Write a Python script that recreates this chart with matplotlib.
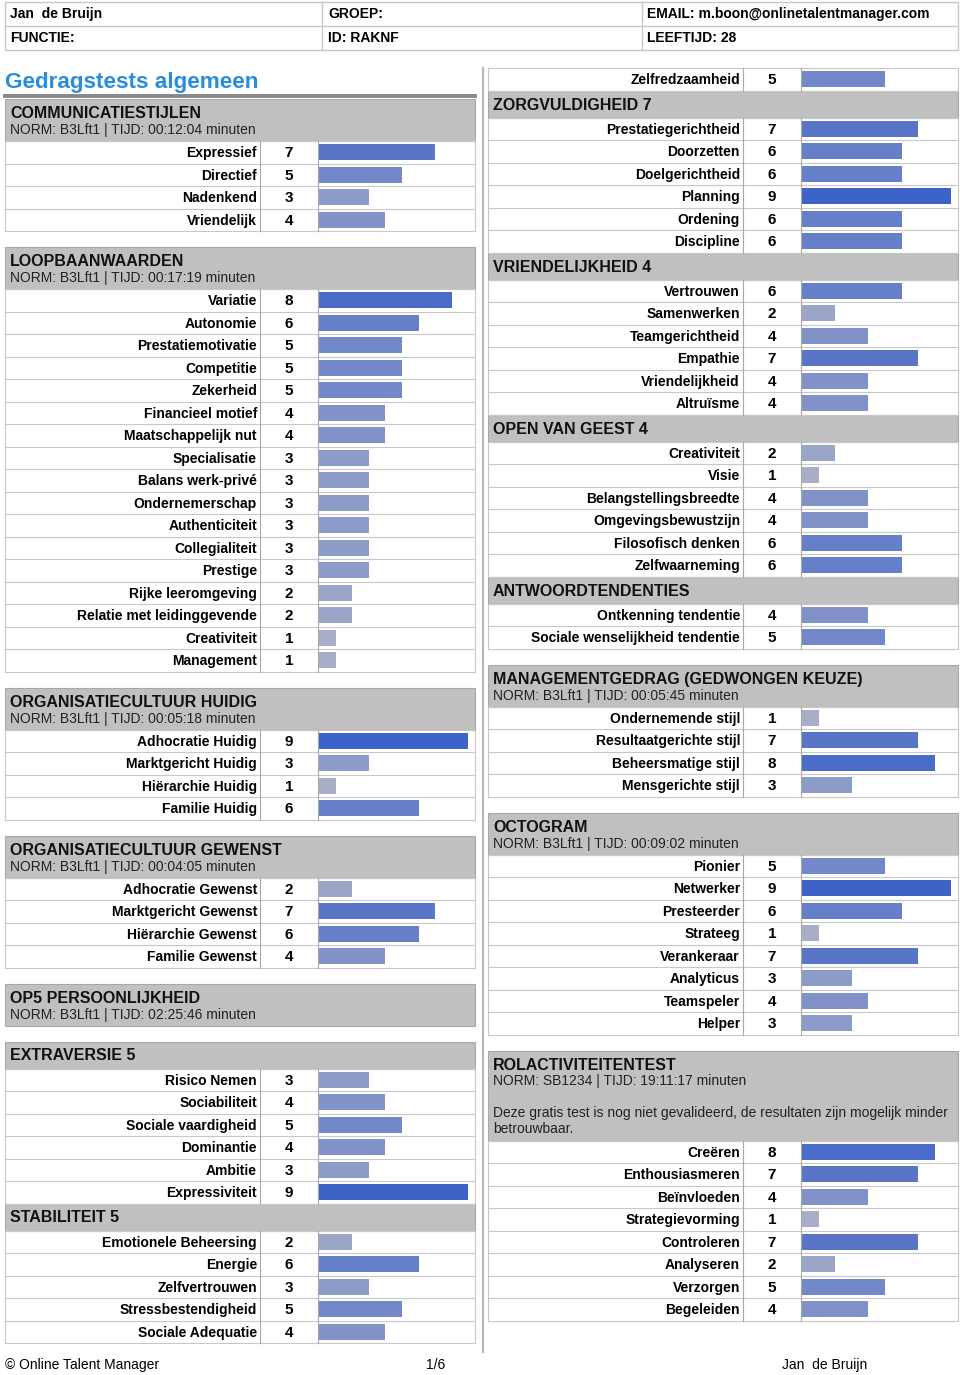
import matplotlib
matplotlib.use('Agg')
import matplotlib.pyplot as plt
from matplotlib.patches import Rectangle

plt.rcParams['font.family'] = ['Liberation Sans', 'DejaVu Sans']

# ---- data ----
comm_labels = ['Expressief', 'Directief', 'Nadenkend', 'Vriendelijk']
comm_scores = [7, 5, 3, 4]

loop_labels = ['Variatie', 'Autonomie', 'Prestatiemotivatie', 'Competitie', 'Zekerheid',
               'Financieel motief', 'Maatschappelijk nut', 'Specialisatie', 'Balans werk-privé',
               'Ondernemerschap', 'Authenticiteit', 'Collegialiteit', 'Prestige',
               'Rijke leeromgeving', 'Relatie met leidinggevende', 'Creativiteit', 'Management']
loop_scores = [8, 6, 5, 5, 5, 4, 4, 3, 3, 3, 3, 3, 3, 2, 2, 1, 1]

huidig_labels = ['Adhocratie Huidig', 'Marktgericht Huidig', 'Hiërarchie Huidig', 'Familie Huidig']
huidig_scores = [9, 3, 1, 6]

gewenst_labels = ['Adhocratie Gewenst', 'Marktgericht Gewenst', 'Hiërarchie Gewenst', 'Familie Gewenst']
gewenst_scores = [2, 7, 6, 4]

extra_labels = ['Risico Nemen', 'Sociabiliteit', 'Sociale vaardigheid', 'Dominantie', 'Ambitie', 'Expressiviteit']
extra_scores = [3, 4, 5, 4, 3, 9]

stab_labels = ['Emotionele Beheersing', 'Energie', 'Zelfvertrouwen', 'Stressbestendigheid', 'Sociale Adequatie']
stab_scores = [2, 6, 3, 5, 4]

zelf_labels = ['Zelfredzaamheid']
zelf_scores = [5]

zorg_labels = ['Prestatiegerichtheid', 'Doorzetten', 'Doelgerichtheid', 'Planning', 'Ordening', 'Discipline']
zorg_scores = [7, 6, 6, 9, 6, 6]

vriend_labels = ['Vertrouwen', 'Samenwerken', 'Teamgerichtheid', 'Empathie', 'Vriendelijkheid', 'Altruïsme']
vriend_scores = [6, 2, 4, 7, 4, 4]

open_labels = ['Creativiteit', 'Visie', 'Belangstellingsbreedte', 'Omgevingsbewustzijn',
               'Filosofisch denken', 'Zelfwaarneming']
open_scores = [2, 1, 4, 4, 6, 6]

antw_labels = ['Ontkenning tendentie', 'Sociale wenselijkheid tendentie']
antw_scores = [4, 5]

mgmt_labels = ['Ondernemende stijl', 'Resultaatgerichte stijl', 'Beheersmatige stijl', 'Mensgerichte stijl']
mgmt_scores = [1, 7, 8, 3]

octo_labels = ['Pionier', 'Netwerker', 'Presteerder', 'Strateeg', 'Verankeraar', 'Analyticus',
               'Teamspeler', 'Helper']
octo_scores = [5, 9, 6, 1, 7, 3, 4, 3]

rol_labels = ['Creëren', 'Enthousiasmeren', 'Beïnvloeden', 'Strategievorming', 'Controleren',
              'Analyseren', 'Verzorgen', 'Begeleiden']
rol_scores = [8, 7, 4, 1, 7, 2, 5, 4]

# ---- layout helpers (pixel coordinates) ----
ROW_H = 22.5
UNIT = 16.6
LINE = '#c8c8c8'
SEP = '#a8a8a8'
HEAD_BG = '#c0c0c0'

fig = plt.figure(figsize=(9.6, 13.75), dpi=100)
ax = fig.add_axes([0, 0, 1, 1])
ax.set_xlim(0, 960)
ax.set_ylim(1375, 0)
ax.axis('off')


def bar_color(v):
  t = (v - 1) / 8.0
  lo = (168, 174, 200)
  hi = (61, 98, 200)
  return tuple((lo[i] + (hi[i] - lo[i]) * t) / 255 for i in range(3))


def header(col, y0, title, lines=()):
  x0, x1 = col['x0'], col['x1']
  h = 27 if not lines else 26 + 16 * len(lines)
  ax.add_patch(Rectangle((x0, y0), x1 - x0, h, facecolor=HEAD_BG, edgecolor='#a8a8a8', lw=0.8))
  ax.text(x0 + 5, y0 + 14.5, title, fontsize=11.5, fontweight='bold', va='center', color='#111111')
  for i, ln in enumerate(lines):
    if ln:
      ax.text(x0 + 5, y0 + 31 + 15.8 * i, ln, fontsize=10, va='center', color='#222222')
  return y0 + h


def rows(col, y0, labels, scores):
  x0, x1, sl, sn = col['x0'], col['x1'], col['sl'], col['sn']
  n = len(labels)
  y1 = y0 + n * ROW_H
  centers = [y0 + ROW_H * (i + 0.5) for i in range(n)]
  for i in range(n + 1):
    ax.plot([x0, x1], [y0 + i * ROW_H] * 2, color=LINE, lw=0.8)
  for x in (x0, x1):
    ax.plot([x, x], [y0, y1], color=LINE, lw=0.8)
  for x in (sl, sn):
    ax.plot([x, x], [y0, y1], color=SEP, lw=0.8)
  for c, lab, s in zip(centers, labels, scores):
    ax.text(sl - 3, c + 1, lab, ha='right', va='center', fontsize=10, fontweight='bold')
    ax.text((sl + sn) / 2, c + 1, str(s), ha='center', va='center', fontsize=11, fontweight='bold')
  ax.barh(centers, [s * UNIT for s in scores], left=sn + 1, height=16,
          color=[bar_color(s) for s in scores])
  return y1


left = {'x0': 5, 'x1': 475, 'sl': 260, 'sn': 318}
right = {'x0': 488, 'x1': 958, 'sl': 743, 'sn': 801}

# ---- top info table ----
ax.add_patch(Rectangle((5, 2), 953, 48, facecolor='none', edgecolor=LINE, lw=1))
ax.plot([5, 958], [26, 26], color=LINE, lw=1)
for x in (322, 642):
  ax.plot([x, x], [2, 50], color=LINE, lw=1)
info = [('Jan  de Bruijn', 'GROEP:', 'EMAIL: m.boon@onlinetalentmanager.com'),
        ('FUNCTIE:', 'ID: RAKNF', 'LEEFTIJD: 28')]
for r, row in enumerate(info):
  for x, t in zip((10, 328, 647), row):
    ax.text(x, 14 + 24 * r, t, fontsize=10, fontweight='bold', va='center')

# ---- left column ----
ax.text(5, 82, 'Gedragstests algemeen', fontsize=16.2, fontweight='bold', color='#2a8ddb', va='center')
ax.plot([5, 475], [96, 96], color='#888888', lw=2.8)

norm = 'NORM: B3Lft1 | TIJD: {} minuten'
y = header(left, 99, 'COMMUNICATIESTIJLEN', [norm.format('00:12:04')])
y = rows(left, y, comm_labels, comm_scores)
y = header(left, y + 16, 'LOOPBAANWAARDEN', [norm.format('00:17:19')])
y = rows(left, y, loop_labels, loop_scores)
y = header(left, y + 16, 'ORGANISATIECULTUUR HUIDIG', [norm.format('00:05:18')])
y = rows(left, y, huidig_labels, huidig_scores)
y = header(left, y + 16, 'ORGANISATIECULTUUR GEWENST', [norm.format('00:04:05')])
y = rows(left, y, gewenst_labels, gewenst_scores)
y = header(left, y + 16, 'OP5 PERSOONLIJKHEID', [norm.format('02:25:46')])
y = header(left, y + 16, 'EXTRAVERSIE 5')
y = rows(left, y, extra_labels, extra_scores)
y = header(left, y, 'STABILITEIT 5')
y = rows(left, y, stab_labels, stab_scores)

# ---- column divider ----
ax.plot([483, 483], [68, 1352], color='#b8b8b8', lw=1.6)

# ---- right column ----
y = rows(right, 68, zelf_labels, zelf_scores)
y = header(right, y, 'ZORGVULDIGHEID 7')
y = rows(right, y, zorg_labels, zorg_scores)
y = header(right, y, 'VRIENDELIJKHEID 4')
y = rows(right, y, vriend_labels, vriend_scores)
y = header(right, y, 'OPEN VAN GEEST 4')
y = rows(right, y, open_labels, open_scores)
y = header(right, y, 'ANTWOORDTENDENTIES')
y = rows(right, y, antw_labels, antw_scores)
y = header(right, y + 16, 'MANAGEMENTGEDRAG (GEDWONGEN KEUZE)', [norm.format('00:05:45')])
y = rows(right, y, mgmt_labels, mgmt_scores)
y = header(right, y + 16, 'OCTOGRAM', [norm.format('00:09:02')])
y = rows(right, y, octo_labels, octo_scores)
y = header(right, y + 16, 'ROLACTIVITEITENTEST',
           ['NORM: SB1234 | TIJD: 19:11:17 minuten', '',
            'Deze gratis test is nog niet gevalideerd, de resultaten zijn mogelijk minder',
            'betrouwbaar.'])
y = rows(right, y, rol_labels, rol_scores)

# ---- footer ----
ax.text(5, 1365, '© Online Talent Manager', fontsize=10, va='center')
ax.text(436, 1365, '1/6', fontsize=10, va='center', ha='center')
ax.text(782, 1365, 'Jan  de Bruijn', fontsize=10, va='center')

fig.savefig('out.png', dpi=100)
